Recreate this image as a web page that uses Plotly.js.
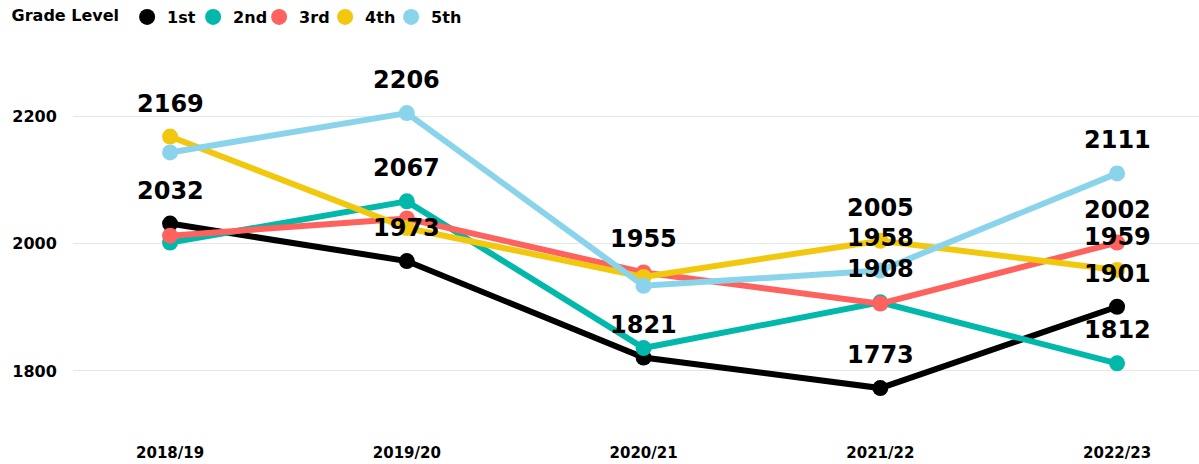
<!DOCTYPE html>
<html>
<head>
<meta charset="utf-8">
<script src="https://cdn.plot.ly/plotly-3.0.1.min.js"></script>
<style>html,body{margin:0;padding:0;background:#fff;}#chart{width:1199px;height:464px;}</style>
</head>
<body>
<div id="chart"></div>
<script>
const years = ["2018/19", "2019/20", "2020/21", "2021/22", "2022/23"];
const seriesNames = ["1st", "2nd", "3rd", "4th", "5th"];
const grade1 = [2032, 1973, 1821, 1773, 1901];
const grade2 = [2002, 2067, 1836, 1908, 1812];
const grade3 = [2013, 2040, 1955, 1906, 2002];
const grade4 = [2169, 2025, 1948, 2005, 1959];
const grade5 = [2144, 2206, 1934, 1958, 2111];
// which data labels are visible in the reference (others hidden due to overlap)
const showLabel1 = [true, true, true, true, true];
const showLabel2 = [false, true, false, true, true];
const showLabel3 = [false, false, true, false, true];
const showLabel4 = [true, false, false, true, true];
const showLabel5 = [false, true, false, true, true];
const colors = ["#000000", "#01B8AA", "#FD625E", "#F2C80F", "#8AD4EB"];

const allValues = [grade1, grade2, grade3, grade4, grade5];
const allShow = [showLabel1, showLabel2, showLabel3, showLabel4, showLabel5];
const FONT = "DejaVu Sans, Arial, sans-serif";

const traces = [];
allValues.forEach((vals, i) => {
  traces.push({
    x: years, y: vals, type: "scatter", mode: "lines+markers",
    name: seriesNames[i], showlegend: false,
    line: {color: colors[i], width: 6},
    marker: {color: colors[i], size: 16},
    hoverinfo: "x+y+name"
  });
});
// legend entries (markers only, as in the reference legend)
allValues.forEach((vals, i) => {
  traces.push({
    x: [null], y: [null], type: "scatter", mode: "markers",
    name: seriesNames[i], showlegend: true,
    marker: {color: colors[i], size: 16}
  });
});
// invisible spacer entry so the last legend label is not clipped
traces.push({
  x: [null], y: [null], type: "scatter", mode: "markers",
  name: " ", showlegend: true,
  marker: {color: "rgba(0,0,0,0)", size: 1}
});

const annotations = [];
allValues.forEach((vals, i) => {
  vals.forEach((v, j) => {
    if (allShow[i][j]) {
      annotations.push({
        x: years[j], y: v, xref: "x", yref: "y",
        text: String(v), showarrow: false, yshift: 33,
        font: {family: FONT, size: 24, color: "#000", weight: "bold"}
      });
    }
  });
});

const layout = {
  width: 1199, height: 464,
  margin: {l: 73, r: 0, t: 40, b: 34},
  paper_bgcolor: "#fff", plot_bgcolor: "#fff",
  font: {family: FONT, color: "#000"},
  xaxis: {
    type: "category", range: [-0.41, 4.346],
    showgrid: false, zeroline: false, showline: false,
    ticks: "outside", ticklen: 9, tickcolor: "rgba(0,0,0,0)",
    tickfont: {family: FONT, size: 15, color: "#000", weight: "bold"}
  },
  yaxis: {
    range: [1707, 2321], tickvals: [1800, 2000, 2200],
    showgrid: true, gridcolor: "#e6e6e6", gridwidth: 1,
    zeroline: false, showline: false,
    ticks: "outside", ticklen: 12, tickcolor: "rgba(0,0,0,0)",
    tickfont: {family: FONT, size: 16, color: "#000", weight: "bold"}
  },
  showlegend: true,
  legend: {
    orientation: "h", xref: "container", yref: "container",
    x: 0.008, y: 1, xanchor: "left", yanchor: "top",
    title: {text: "Grade Level", font: {family: FONT, size: 16, color: "#000", weight: "bold"}},
    font: {family: FONT, size: 16, color: "#000", weight: "bold"},
    itemwidth: 30, entrywidth: 21
  },
  annotations: annotations
};

Plotly.newPlot("chart", traces, layout, {displayModeBar: false, staticPlot: true});
</script>
</body>
</html>
